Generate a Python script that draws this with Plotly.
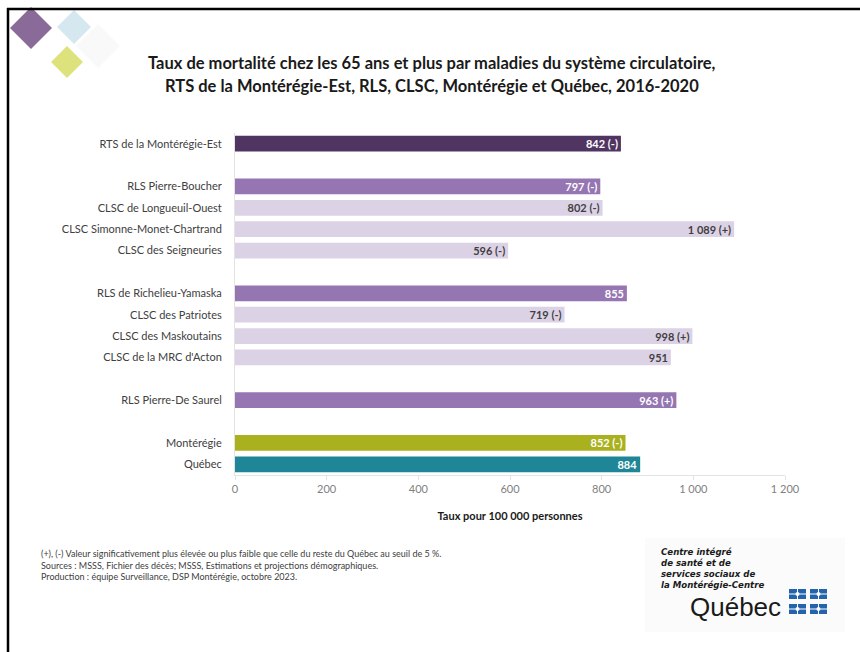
import plotly.graph_objects as go

categories = ["RTS de la Montérégie-Est", " ", "RLS Pierre-Boucher", "CLSC de Longueuil-Ouest",
              "CLSC Simonne-Monet-Chartrand", "CLSC des Seigneuries", "  ",
              "RLS de Richelieu-Yamaska", "CLSC des Patriotes", "CLSC des Maskoutains",
              "CLSC de la MRC d'Acton", "   ", "RLS Pierre-De Saurel", "    ",
              "Montérégie", "Québec"]
values = [842, None, 797, 802, 1089, 596, None, 855, 719, 998, 951, None, 963, None, 852, 884]
labels = ["842 (-)", "", "797 (-)", "802 (-)", "1 089 (+)", "596 (-)", "", "855", "719 (-)",
          "998 (+)", "951", "", "963 (+)", "", "852 (-)", "884"]
levels = ["rts", "", "rls", "clsc", "clsc", "clsc", "", "rls", "clsc", "clsc", "clsc", "", "rls", "",
          "mont", "qc"]
x_ticks = [0, 200, 400, 600, 800, 1000, 1200]
x_ticktext = ["0", "200", "400", "600", "800", "1 000", "1 200"]

fill = {"rts": "#503563", "rls": "#9676b2", "clsc": "#dcd2e6", "mont": "#a9b21e", "qc": "#1e8696", "": "#ffffff"}
txtcol = {"rts": "#ffffff", "rls": "#ffffff", "clsc": "#3f3f3f", "mont": "#ffffff", "qc": "#ffffff", "": "#ffffff"}

FONT = "Lato"

fig = go.Figure(go.Bar(
    y=categories, x=values, orientation="h",
    marker=dict(color=[fill[l] for l in levels], line=dict(width=0)),
    width=0.74,
    text=labels, textposition="inside", insidetextanchor="end", constraintext="none",
    textfont=dict(family=FONT, size=11, color=[txtcol[l] for l in levels], weight="bold"),
    cliponaxis=False,
    hoverinfo="skip",
))

W, H = 860, 652
L, R, T, B = 235, 75, 133, 177
PW, PH = W - L - R, H - T - B


def px(x):
    return (x - L) / PW


def py(y):
    return (H - B - y) / PH


shapes = []


def diamond(cx, cy, r, color, op=1.0):
    path = "M {} {} L {} {} L {} {} L {} {} Z".format(
        px(cx - r), py(cy), px(cx), py(cy - r), px(cx + r), py(cy), px(cx), py(cy + r))
    shapes.append(dict(type="path", path=path, xref="paper", yref="paper",
                       fillcolor=color, line=dict(width=0), opacity=op, layer="above"))


# top-left logo
diamond(98, 46, 22, "#f9f9f9")
diamond(74, 27, 17, "#d5e8ef")
diamond(31, 28, 21, "#8a6a98")
diamond(67, 62, 16, "#dde27c")

# frame
shapes.append(dict(type="line", xref="paper", yref="paper", x0=px(7), x1=px(W), y0=py(9), y1=py(9),
                   line=dict(color="#000000", width=2.5)))
shapes.append(dict(type="line", xref="paper", yref="paper", x0=px(8), x1=px(8), y0=py(8), y1=py(H),
                   line=dict(color="#000000", width=2.5)))

# bottom-right logo background
shapes.append(dict(type="rect", xref="paper", yref="paper", x0=px(645), x1=px(845), y0=py(538), y1=py(632),
                   fillcolor="#fbfbfb", line=dict(width=0), layer="below"))

# Quebec flag blocks
for bx in (789, 810):
    for by in (589, 604):
        shapes.append(dict(type="rect", xref="paper", yref="paper", x0=px(bx), x1=px(bx + 17),
                           y0=py(by), y1=py(by + 10), fillcolor="#2464ad", line=dict(width=0)))
        shapes.append(dict(type="line", xref="paper", yref="paper", x0=px(bx), x1=px(bx + 17),
                           y0=py(by + 5), y1=py(by + 5), line=dict(color="#ffffff", width=1)))
        shapes.append(dict(type="line", xref="paper", yref="paper", x0=px(bx + 8.5), x1=px(bx + 8.5),
                           y0=py(by), y1=py(by + 10), line=dict(color="#ffffff", width=1)))
        shapes.append(dict(type="circle", xref="paper", yref="paper", x0=px(bx + 6.5), x1=px(bx + 10.5),
                           y0=py(by + 3), y1=py(by + 7), fillcolor="#ffffff", line=dict(width=0)))

annotations = [
    dict(text="<b>Taux de mortalité chez les 65 ans et plus par maladies du système circulatoire,</b>",
         x=px(432), y=py(63), xref="paper", yref="paper", showarrow=False,
         font=dict(family=FONT, size=16.5, color="#1a1a1a"), xanchor="center", yanchor="middle"),
    dict(text="<b>RTS de la Montérégie-Est, RLS, CLSC, Montérégie et Québec, 2016-2020</b>",
         x=px(432), y=py(86), xref="paper", yref="paper", showarrow=False,
         font=dict(family=FONT, size=16.5, color="#1a1a1a"), xanchor="center", yanchor="middle"),
    dict(text="(+), (-) Valeur significativement plus élevée ou plus faible que celle du reste du Québec au seuil de 5 %.<br>"
              "Sources : MSSS, Fichier des décès; MSSS, Estimations et projections démographiques.<br>"
              "Production : équipe Surveillance, DSP Montérégie, octobre 2023.",
         x=px(39), y=py(546), xref="paper", yref="paper", showarrow=False, align="left",
         font=dict(family=FONT, size=9, color="#404040"), xanchor="left", yanchor="top"),
    dict(text="Québec", x=px(688), y=py(607), xref="paper", yref="paper", showarrow=False,
         font=dict(family="Liberation Sans", size=26, color="#1a1a1a"), xanchor="left", yanchor="middle"),
]
logo_lines = ["Centre intégré", "de santé et de", "services sociaux de", "la Montérégie-Centre"]
for i, t in enumerate(logo_lines):
    annotations.append(dict(text="<b><i>" + t + "</i></b>", x=px(659), y=py(552 + 11 * i),
                            xref="paper", yref="paper", showarrow=False,
                            font=dict(family="DejaVu Sans", size=8.6, color="#1a1a1a"),
                            xanchor="left", yanchor="middle"))

fig.update_layout(
    width=W, height=H,
    margin=dict(l=L, r=R, t=T, b=B, autoexpand=False),
    paper_bgcolor="#ffffff", plot_bgcolor="#ffffff",
    showlegend=False,
    bargap=0.26,
    xaxis=dict(range=[0, 1200], tickvals=x_ticks, ticktext=x_ticktext,
               tickfont=dict(family=FONT, size=11, color="#7f7f7f"),
               showgrid=False, zeroline=False, showline=True, linecolor="#e3e3e3", linewidth=1,
               ticks="outside", ticklen=4, tickcolor="#e3e3e3",
               title=dict(text="<b>Taux pour 100 000 personnes</b>", standoff=18,
                          font=dict(family=FONT, size=11, color="#1a1a1a"))),
    yaxis=dict(categoryorder="array", categoryarray=categories, autorange="reversed",
               tickfont=dict(family=FONT, size=11, color="#404040"),
               showgrid=False, zeroline=False, showline=True, linecolor="#e3e3e3", linewidth=1,
               ticks="", ticklabelstandoff=10),
    shapes=shapes,
    annotations=annotations,
)

fig.write_html("out.html", config={"displayModeBar": False},
               post_script="document.body.style.margin='0';document.body.style.padding='0';")
